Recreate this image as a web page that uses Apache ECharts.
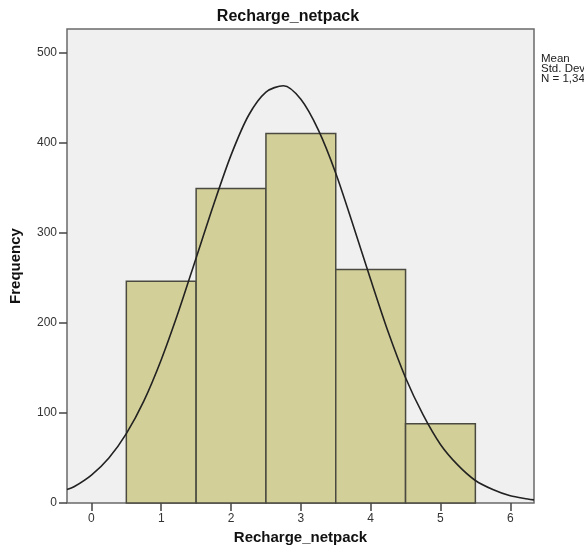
<!DOCTYPE html>
<html>
<head>
<meta charset="utf-8">
<script src="https://cdn.jsdelivr.net/npm/echarts@6/dist/echarts.min.js"></script>
<style>
  html, body { margin: 0; padding: 0; background: #fff; }
  #chart { width: 584px; height: 552px; }
</style>
</head>
<body>
<div id="chart"></div>
<script>
// Histogram bins (Recharge_netpack)
const binStart = [0.5, 1.5, 2.5, 3.5, 4.5];
const binEnd   = [1.5, 2.5, 3.5, 4.5, 5.5];
const frequency = [246, 349, 410, 259, 88];

// Normal curve
const curveX = [-0.35, -0.25, 0, 0.25, 0.5, 0.75, 1, 1.25, 1.5, 1.75, 2, 2.25, 2.5, 2.75, 3, 3.25, 3.5, 3.75, 4, 4.25, 4.5, 4.75, 5, 5.25, 5.5, 5.75, 6, 6.25, 6.34];
const curveY = [15, 18, 31, 50, 77, 113, 159, 213, 272, 331, 386, 430, 456, 463, 448, 414, 366, 308, 248, 190, 139, 98, 65, 42, 25, 15, 8, 4.5, 3.5];

// Axis ticks
const xTicks = [0, 1, 2, 3, 4, 5, 6];
const yTicks = [0, 100, 200, 300, 400, 500];

// Legend text (clipped at right edge like the reference)
const statsLines = ['Mean          = 2.70', 'Std. Dev. = 1.163', 'N = 1,349'];

const chart = echarts.init(document.getElementById('chart'), null, { renderer: 'canvas' });

const barData = binStart.map((s, i) => [s, binEnd[i], frequency[i]]);
const curveData = curveX.map((x, i) => [x, curveY[i]]);

const font = '"Liberation Sans", Arial, sans-serif';

chart.setOption({
  animation: false,
  backgroundColor: '#ffffff',
  title: {
    text: 'Recharge_netpack',
    left: 283,
    textAlign: 'center',
    top: 4,
    textStyle: { fontFamily: font, fontSize: 16, fontWeight: 'bold', color: '#111' }
  },
  graphic: statsLines.map((t, i) => ({
    type: 'text',
    left: 541,
    top: 53 + i * 10,
    style: { text: t, fontFamily: font, fontSize: 11.5, fill: '#222' }
  })),
  grid: {
    left: 65, right: 50, top: 29, bottom: 49,
    show: true,
    backgroundColor: '#f0f0f0',
    borderColor: '#6a6a6a',
    borderWidth: 1.5
  },
  xAxis: {
    type: 'value',
    min: -0.35,
    max: 6.34,
    name: 'Recharge_netpack',
    nameLocation: 'middle',
    nameGap: 27,
    nameTextStyle: { fontFamily: font, fontSize: 15, fontWeight: 'bold', color: '#111' },
    axisLine: { show: false, onZero: false },
    splitLine: { show: false },
    axisTick: { show: true, length: 8, lineStyle: { color: '#444', width: 1.5 }, customValues: xTicks },
    axisLabel: { fontFamily: font, fontSize: 12, color: '#333', margin: 10, customValues: xTicks }
  },
  yAxis: {
    type: 'value',
    min: 0,
    max: 526,
    name: 'Frequency',
    nameLocation: 'middle',
    nameGap: 44,
    nameTextStyle: { fontFamily: font, fontSize: 15, fontWeight: 'bold', color: '#111' },
    axisLine: { show: false, onZero: false },
    splitLine: { show: false },
    axisTick: { show: true, length: 8, lineStyle: { color: '#444', width: 1.5 }, customValues: yTicks },
    axisLabel: { fontFamily: font, fontSize: 12, color: '#333', margin: 10, customValues: yTicks }
  },
  series: [
    {
      type: 'custom',
      data: barData,
      encode: { x: [0, 1], y: 2 },
      renderItem: function (params, api) {
        const p0 = api.coord([api.value(0), api.value(2)]);
        const p1 = api.coord([api.value(1), 0]);
        return {
          type: 'rect',
          shape: { x: p0[0], y: p0[1], width: p1[0] - p0[0], height: p1[1] - p0[1] },
          style: { fill: '#d3cf98', stroke: '#4a4a40', lineWidth: 1.5 }
        };
      },
      z: 2
    },
    {
      type: 'line',
      data: curveData,
      smooth: 0.3,
      showSymbol: false,
      symbol: 'none',
      lineStyle: { color: '#222', width: 1.6 },
      z: 3
    }
  ]
});
</script>
</body>
</html>
